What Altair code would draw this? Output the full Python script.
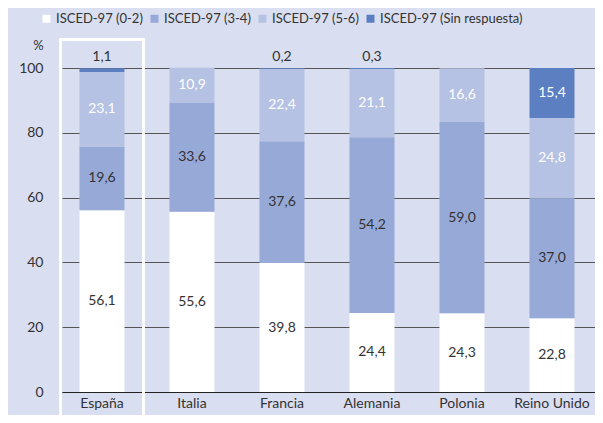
import altair as alt
import pandas as pd

countries = ["España", "Italia", "Francia", "Alemania", "Polonia", "Reino Unido"]
levels = ["ISCED-97 (0-2)", "ISCED-97 (3-4)", "ISCED-97 (5-6)", "ISCED-97 (Sin respuesta)"]
v02 = [56.1, 55.6, 39.8, 24.4, 24.3, 22.8]
v34 = [19.6, 33.6, 37.6, 54.2, 59.0, 37.0]
v56 = [23.1, 10.9, 22.4, 21.1, 16.6, 24.8]
vsr = [1.1, 0.0, 0.2, 0.3, 0.0, 15.4]
colors = ["#ffffff", "#97a9d7", "#b5c2e3", "#5b7fc1"]
y_ticks = [0, 20, 40, 60, 80, 100]

rows = []
for i, c in enumerate(countries):
    for j, (lev, vals) in enumerate(zip(levels, [v02, v34, v56, vsr])):
        v = vals[i]
        rows.append({"country": c, "level": lev, "order": j, "value": v,
                     "label": f"{v:.1f}".replace(".", ",")})
df = pd.DataFrame(rows)

box_df = pd.DataFrame({"country": [countries[0]], "y0": [-12], "y1": [108.8]})

x_scale = alt.Scale(domain=countries, paddingInner=0.5, paddingOuter=0.211, align=0.46)
y_scale = alt.Scale(domain=[0, 100], nice=False)

bars = alt.Chart(df).mark_bar().encode(
    x=alt.X("country:N", scale=x_scale, sort=countries,
            axis=alt.Axis(title=None, labelAngle=0, ticks=False, domainColor="#222",
                          domainWidth=1, labelPadding=4, labelFontSize=14,
                          labelColor="#333", grid=False)),
    y=alt.Y("value:Q", stack="zero", scale=y_scale,
            axis=alt.Axis(values=y_ticks, title="%", titleAngle=0, titleX=-24, titleY=-23,
                          titleAlign="center", titleBaseline="middle",
                          titleFontWeight="normal", titleFontSize=13, titleColor="#333",
                          grid=True, gridColor="#555", gridWidth=1, ticks=False,
                          domain=False, labelPadding=19, labelFontSize=14,
                          labelColor="#333")),
    color=alt.Color("level:N", scale=alt.Scale(domain=levels, range=colors),
                    legend=alt.Legend(title=None, orient="none", direction="horizontal",
                                      columns=4, legendX=-22, legendY=-56,
                                      symbolType="square", symbolSize=64,
                                      symbolStrokeWidth=0, labelFontSize=13,
                                      labelColor="#333", labelOffset=3,
                                      columnPadding=5, padding=0, labelLimit=300)),
    order=alt.Order("order:Q"),
)

box = alt.Chart(box_df).mark_bar(filled=False, stroke="white", strokeWidth=3, size=83).encode(
    x=alt.X("country:N", scale=x_scale, sort=countries),
    y=alt.Y("y0:Q", scale=y_scale),
    y2="y1:Q",
)

text = alt.Chart(df).transform_stack(
    stack="value", groupby=["country"], as_=["s0", "s1"],
    sort=[alt.SortField("order", order="ascending")],
).transform_filter("datum.value > 0").transform_calculate(
    ypos="datum.value >= 5 ? (datum.s0 + datum.s1) / 2 : 103.3"
).mark_text(fontSize=14, baseline="middle", align="center").encode(
    x=alt.X("country:N", scale=x_scale, sort=countries),
    y=alt.Y("ypos:Q", scale=y_scale),
    text="label:N",
    color=alt.condition(
        "(datum.level == 'ISCED-97 (5-6)' || datum.level == 'ISCED-97 (Sin respuesta)') && datum.value >= 5",
        alt.value("white"), alt.value("#333")),
)

chart = alt.layer(bars, box, text).properties(
    width=533, height=324,
    autosize=alt.AutoSizeParams(type="none"),
    padding={"left": 54, "top": 60, "right": 0, "bottom": 23},
).configure(
    background="#d9def0", font="Lato",
).configure_view(stroke=None)

chart.save("out.html", embed_options={"renderer": "svg", "actions": False})
